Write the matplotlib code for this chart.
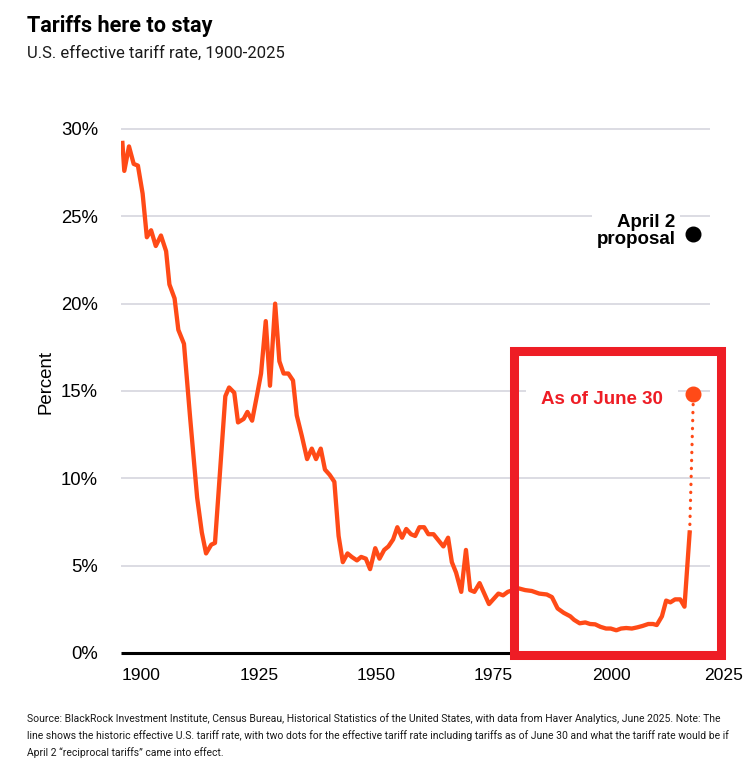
import matplotlib.pyplot as plt
import matplotlib.transforms as mtransforms
from matplotlib.patches import Rectangle

# effective tariff rate (%)
years = [1896.0, 1896.4, 1897.4, 1898.4, 1899.3, 1900.3, 1901.2, 1902.1, 1903.1, 1904.2,
         1905.3, 1906.0, 1907.1, 1907.9, 1909.1, 1910.4, 1911.9, 1912.9, 1913.8, 1914.9,
         1915.7, 1917.9, 1918.7, 1919.8, 1920.6, 1921.8, 1922.6, 1923.6, 1924.6, 1925.5,
         1926.5, 1927.4, 1928.5, 1929.4, 1930.3, 1931.3, 1932.3, 1933.1, 1934.2, 1935.3,
         1936.3, 1937.2, 1938.2, 1939.1, 1940.1, 1941.1, 1942.0, 1942.9, 1943.9, 1944.8,
         1945.9, 1946.8, 1947.8, 1948.7, 1949.8, 1950.7, 1951.7, 1952.6, 1953.6, 1954.5,
         1955.5, 1956.4, 1957.4, 1958.3, 1959.2, 1960.2, 1961.1, 1962.2, 1963.1, 1964.3,
         1965.3, 1966.1, 1967.0, 1968.1, 1969.1, 1970.0, 1970.9, 1972.0, 1973.0, 1974.0,
         1975.0, 1976.0, 1977.0, 1978.0, 1979.1, 1980.3, 1981.7, 1983.1, 1984.7, 1986.3,
         1987.4, 1988.6, 1989.9, 1991.3, 1992.1, 1993.3, 1994.5, 1995.5, 1996.6, 1997.7,
         1998.9, 1999.9, 2001.1, 2002.1, 2003.2, 2004.4, 2005.6, 2006.7, 2007.9, 2008.9,
         2009.7, 2010.8, 2011.7, 2012.6, 2013.6, 2014.7, 2015.6, 2016.7]
rate = [29.2, 27.6, 29.0, 28.0, 27.9, 26.3, 23.8, 24.2, 23.3, 23.9,
        23.0, 21.1, 20.3, 18.5, 17.7, 13.5, 8.9, 6.9, 5.7, 6.2,
        6.3, 14.7, 15.2, 14.9, 13.2, 13.4, 13.8, 13.3, 14.7, 16.0,
        19.0, 15.3, 20.0, 16.7, 16.0, 16.0, 15.6, 13.6, 12.4, 11.1,
        11.7, 11.1, 11.7, 10.5, 10.2, 9.8, 6.7, 5.2, 5.7, 5.5,
        5.3, 5.5, 5.4, 4.8, 6.0, 5.4, 5.9, 6.1, 6.5, 7.2,
        6.6, 7.1, 6.8, 6.7, 7.2, 7.2, 6.8, 6.8, 6.5, 6.1,
        6.6, 5.2, 4.6, 3.5, 5.9, 3.6, 3.5, 4.0, 3.4, 2.8,
        3.1, 3.4, 3.3, 3.5, 3.6, 3.7, 3.6, 3.55, 3.4, 3.35,
        3.2, 2.55, 2.3, 2.1, 1.9, 1.7, 1.75, 1.66, 1.64, 1.5,
        1.4, 1.4, 1.3, 1.4, 1.43, 1.4, 1.47, 1.55, 1.66, 1.66,
        1.6, 2.1, 3.0, 2.9, 3.07, 3.07, 2.65, 6.9]

june30_year, june30_rate = 2017.5, 14.8
april2_year, april2_rate = 2017.4, 24.0

y_ticks = [0, 5, 10, 15, 20, 25, 30]
y_labels = ['0%', '5%', '10%', '15%', '20%', '25%', '30%']
x_ticks = [1900, 1925, 1950, 1975, 2000, 2025]

orange = '#FF4A17'
red = '#EE1D25'
grid = '#DCDCE3'

plt.rcParams['font.family'] = ['Liberation Sans', 'DejaVu Sans']

fig = plt.figure(figsize=(7.46, 7.6), dpi=100)
ax = fig.add_axes([0.1622, 0.1408, 0.8177, 0.7125])
ax.set_xlim(1895.7, 2025.5)
ax.set_ylim(0, 31)

for s in ax.spines.values():
    s.set_visible(False)

ax.hlines(y_ticks[1:], 1895.7, 2021.1, color=grid, lw=1.4, zorder=1)
ax.hlines(0, 1895.7, 2021.1, color='black', lw=2.2, zorder=2, clip_on=False)

ax.plot(years, rate, color=orange, lw=3.1, solid_joinstyle='round', zorder=3)
ax.plot([years[-1], june30_year], [rate[-1], june30_rate], color=orange, lw=2.3,
        linestyle=(0, (0.1, 2.4)), dash_capstyle='round', zorder=3)
ax.plot(june30_year, june30_rate, 'o', color=orange, ms=10.5, zorder=5, clip_on=False)
ax.plot(april2_year, april2_rate, 'o', color='black', ms=10.5, zorder=5, clip_on=False)

ax.text(1998.1, 14.5, 'As of June 30', color=red, fontsize=13.5, fontweight='bold',
        ha='center', va='center', zorder=4,
        bbox=dict(boxstyle='square,pad=0.8', fc='white', ec='none'))
ax.text(2013.7, 24.15, 'April 2\nproposal', color='black', fontsize=13.5,
        fontweight='bold', ha='right', va='center', linespacing=1.05, zorder=4,
        bbox=dict(boxstyle='square,pad=0.25', fc='white', ec='none'))

# highlight box around recent decades
ax.add_patch(Rectangle((1979.4, -0.11), 2023.3 - 1979.4, 17.37, fill=False,
                       ec=red, lw=6.5, joinstyle='miter', clip_on=False, zorder=6))

ax.set_yticks(y_ticks, y_labels)
ax.set_xticks(x_ticks, [str(x) for x in x_ticks])
ax.tick_params(axis='both', length=0, colors='black')
ax.tick_params(axis='y', pad=16.5, labelsize=13.3)
ax.tick_params(axis='x', pad=11, labelsize=12.6)
ax.set_ylabel('Percent', fontsize=13.4, labelpad=5)

# keep the last year label inside the figure
last = ax.get_xticklabels()[-1]
last.set_transform(last.get_transform() + mtransforms.ScaledTranslation(-4 / 72, 0, fig.dpi_scale_trans))

fig.text(27 / 746, 1 - 26 / 760, 'Tariffs here to stay', fontsize=15.6, fontweight='bold',
         family='Roboto', va='center', ha='left')
fig.text(27 / 746, 1 - 53 / 760, 'U.S. effective tariff rate, 1900-2025', fontsize=12,
         family='Roboto', va='center', ha='left', color='#1a1a1a')

footer = ['Source: BlackRock Investment Institute, Census Bureau, Historical Statistics of the United States, with data from Haver Analytics, June 2025. Note: The',
          'line shows the historic effective U.S. tariff rate, with two dots for the effective tariff rate including tariffs as of June 30 and what the tariff rate would be if',
          'April 2 \u201creciprocal tariffs\u201d came into effect.']
for i, line in enumerate(footer):
    fig.text(27 / 746, 1 - (719 + 17 * i) / 760, line, fontsize=7.45, family='Roboto',
             va='center', ha='left', color='#1a1a1a')

fig.savefig('out.png', dpi=100, facecolor='white')
